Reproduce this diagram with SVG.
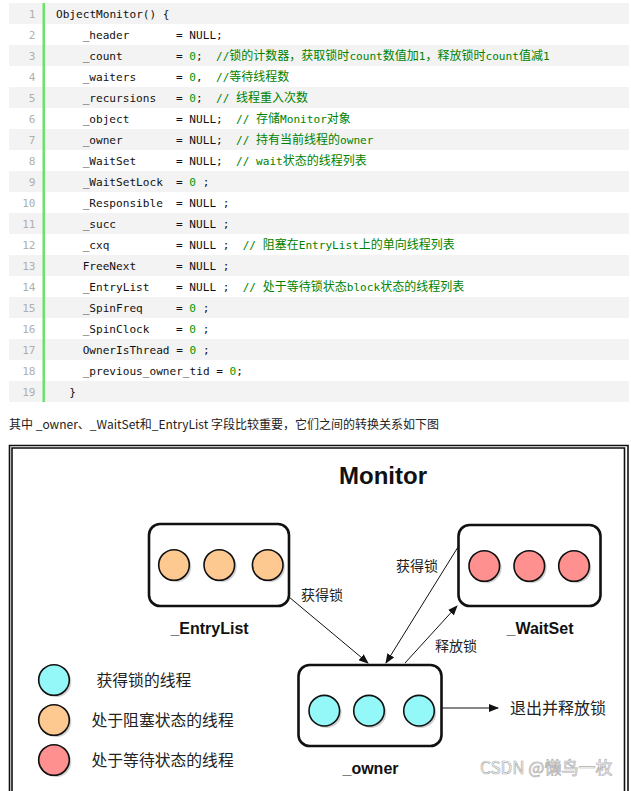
<svg xmlns="http://www.w3.org/2000/svg" width="631" height="791" viewBox="0 0 631 791">
<style>
.row{fill:#f3f3f3}
.ln{font-family:"DejaVu Sans Mono","Liberation Mono",monospace;font-size:11.1px;fill:#afafaf;text-anchor:end}
.cd{font-family:"DejaVu Sans Mono","Liberation Mono","Noto Sans CJK SC",monospace;font-size:11.1px;fill:#111;white-space:pre}
.num{fill:#009900}
.cm{font-family:"DejaVu Sans Mono","Liberation Mono","Noto Sans CJK SC",monospace;font-size:11.1px;fill:#008200;white-space:pre}
.cj{font-family:"Noto Sans CJK SC",sans-serif;font-size:12px}
.para{font-family:"Noto Sans CJK SC",sans-serif;font-size:12px;fill:#222}
.box{fill:#fff;stroke:#111;stroke-width:2.6}
.dot{stroke:#111;stroke-width:1.6}
.sh{fill:#999;opacity:0.45}
.ent{fill:#fec891}
.wai{fill:#fe9090}
.own{fill:#95f8f8}
.lbl{font-family:"Liberation Sans",Arial,sans-serif;font-weight:bold;font-size:16px;fill:#111;text-anchor:middle}
.zh{font-family:"Noto Sans CJK SC",sans-serif;fill:#222}
.con{stroke:#111;stroke-width:1;fill:none}
</style>
<defs>
<marker id="ah" markerWidth="10" markerHeight="8" refX="9" refY="4" orient="auto" markerUnits="userSpaceOnUse">
<path d="M0,0 L10,4 L0,8 Z" fill="#111"/>
</marker>
</defs>
<rect width="631" height="791" fill="#fff"/>
<g id="code">
<rect class="row" x="9" y="3" width="620" height="21"/>
<rect class="row" x="9" y="45" width="620" height="21"/>
<rect class="row" x="9" y="87" width="620" height="21"/>
<rect class="row" x="9" y="129" width="620" height="21"/>
<rect class="row" x="9" y="171" width="620" height="21"/>
<rect class="row" x="9" y="213" width="620" height="21"/>
<rect class="row" x="9" y="255" width="620" height="21"/>
<rect class="row" x="9" y="297" width="620" height="21"/>
<rect class="row" x="9" y="339" width="620" height="21"/>
<rect class="row" x="9" y="381" width="620" height="21"/>
<rect x="42.5" y="3" width="2.5" height="399" fill="#6ce26c"/>
<text class="ln" x="35.5" y="18">1</text>
<text class="ln" x="35.5" y="39">2</text>
<text class="ln" x="35.5" y="60">3</text>
<text class="ln" x="35.5" y="81">4</text>
<text class="ln" x="35.5" y="102">5</text>
<text class="ln" x="35.5" y="123">6</text>
<text class="ln" x="35.5" y="144">7</text>
<text class="ln" x="35.5" y="165">8</text>
<text class="ln" x="35.5" y="186">9</text>
<text class="ln" x="35.5" y="207">10</text>
<text class="ln" x="35.5" y="228">11</text>
<text class="ln" x="35.5" y="249">12</text>
<text class="ln" x="35.5" y="270">13</text>
<text class="ln" x="35.5" y="291">14</text>
<text class="ln" x="35.5" y="312">15</text>
<text class="ln" x="35.5" y="333">16</text>
<text class="ln" x="35.5" y="354">17</text>
<text class="ln" x="35.5" y="375">18</text>
<text class="ln" x="35.5" y="396">19</text>

<text class="cd" x="56" y="18">ObjectMonitor() {</text>
<text class="cd" x="82.67" y="39">_header</text><text class="cd" x="176" y="39">= NULL;</text>
<text class="cd" x="82.67" y="60">_count</text><text class="cd" x="176" y="60">= <tspan class="num">0</tspan>;</text>
<text class="cm" x="216" y="60">//<tspan class="cj">锁的计数器，获取锁时</tspan>count<tspan class="cj">数值加</tspan>1<tspan class="cj">，释放锁时</tspan>count<tspan class="cj">值减</tspan>1</text>
<text class="cd" x="82.67" y="81">_waiters</text><text class="cd" x="176" y="81">= <tspan class="num">0</tspan>,</text>
<text class="cm" x="216" y="81">//<tspan class="cj">等待线程数</tspan></text>
<text class="cd" x="82.67" y="102">_recursions</text><text class="cd" x="176" y="102">= <tspan class="num">0</tspan>;</text>
<text class="cm" x="216" y="102">// <tspan class="cj">线程重入次数</tspan></text>
<text class="cd" x="82.67" y="123">_object</text><text class="cd" x="176" y="123">= NULL;</text>
<text class="cm" x="236" y="123">// <tspan class="cj">存储</tspan>Monitor<tspan class="cj">对象</tspan></text>
<text class="cd" x="82.67" y="144">_owner</text><text class="cd" x="176" y="144">= NULL;</text>
<text class="cm" x="236" y="144">// <tspan class="cj">持有当前线程的</tspan>owner</text>
<text class="cd" x="82.67" y="165">_WaitSet</text><text class="cd" x="176" y="165">= NULL;</text>
<text class="cm" x="236" y="165">// wait<tspan class="cj">状态的线程列表</tspan></text>
<text class="cd" x="82.67" y="186">_WaitSetLock</text><text class="cd" x="176" y="186">= <tspan class="num">0</tspan> ;</text>
<text class="cd" x="82.67" y="207">_Responsible</text><text class="cd" x="176" y="207">= NULL ;</text>
<text class="cd" x="82.67" y="228">_succ</text><text class="cd" x="176" y="228">= NULL ;</text>
<text class="cd" x="82.67" y="249">_cxq</text><text class="cd" x="176" y="249">= NULL ;</text>
<text class="cm" x="242.67" y="249">// <tspan class="cj">阻塞在</tspan>EntryList<tspan class="cj">上的单向线程列表</tspan></text>
<text class="cd" x="82.67" y="270">FreeNext</text><text class="cd" x="176" y="270">= NULL ;</text>
<text class="cd" x="82.67" y="291">_EntryList</text><text class="cd" x="176" y="291">= NULL ;</text>
<text class="cm" x="242.67" y="291">// <tspan class="cj">处于等待锁状态</tspan>block<tspan class="cj">状态的线程列表</tspan></text>
<text class="cd" x="82.67" y="312">_SpinFreq</text><text class="cd" x="176" y="312">= <tspan class="num">0</tspan> ;</text>
<text class="cd" x="82.67" y="333">_SpinClock</text><text class="cd" x="176" y="333">= <tspan class="num">0</tspan> ;</text>
<text class="cd" x="82.67" y="354">OwnerIsThread = <tspan class="num">0</tspan> ;</text>
<text class="cd" x="82.67" y="375">_previous_owner_tid = <tspan class="num">0</tspan>;</text>
<text class="cd" x="69.33" y="396">}</text>
</g>

<text class="para" x="9" y="429">其中 _owner、_WaitSet和_EntryList 字段比较重要，它们之间的转换关系如下图</text>

<g id="frame">
<path d="M9.5,791 V445.5 H628 V791" fill="none" stroke="#111" stroke-width="1.6"/>
<path d="M12,791 V448 H624.5 V791" fill="none" stroke="#111" stroke-width="1.6"/>
</g>
<text x="383" y="484" font-family="Liberation Sans,Arial,sans-serif" font-weight="bold" font-size="24" fill="#111" text-anchor="middle">Monitor</text>

<g id="connectors">
<line class="con" x1="289" y1="597" x2="368" y2="663" marker-end="url(#ah)"/>
<line class="con" x1="458" y1="547" x2="386" y2="663" marker-end="url(#ah)"/>
<line class="con" x1="405" y1="663" x2="457" y2="606" marker-end="url(#ah)"/>
<line class="con" x1="442" y1="708" x2="498" y2="708" marker-end="url(#ah)"/>
<text class="zh" x="301" y="600" font-size="14">获得锁</text>
<text class="zh" x="396" y="571" font-size="14">获得锁</text>
<text class="zh" x="435" y="651" font-size="14">释放锁</text>
<text class="zh" x="510" y="714" font-size="16">退出并释放锁</text>
</g>

<g id="entrylist">
<rect class="box" x="149" y="524" width="140" height="82" rx="11"/>
<circle class="sh" cx="176" cy="567" r="15.3"/>
<circle class="sh" cx="221.3" cy="567" r="15.3"/>
<circle class="sh" cx="269.7" cy="567" r="15.3"/>
<circle class="dot ent" cx="174" cy="565" r="15.3"/>
<circle class="dot ent" cx="219.3" cy="565" r="15.3"/>
<circle class="dot ent" cx="267.7" cy="565" r="15.3"/>
<text class="lbl" x="209.5" y="634">_EntryList</text>
</g>

<g id="waitset">
<rect class="box" x="458.5" y="525" width="142" height="81" rx="11"/>
<circle class="sh" cx="486.3" cy="568" r="15.3"/>
<circle class="sh" cx="531.3" cy="568" r="15.3"/>
<circle class="sh" cx="576" cy="568" r="15.3"/>
<circle class="dot wai" cx="484.3" cy="566" r="15.3"/>
<circle class="dot wai" cx="529.3" cy="566" r="15.3"/>
<circle class="dot wai" cx="574" cy="566" r="15.3"/>
<text class="lbl" x="540" y="634">_WaitSet</text>
</g>

<g id="owner">
<rect class="box" x="298.5" y="665" width="143" height="81" rx="11"/>
<circle class="sh" cx="326.3" cy="712.7" r="15.3"/>
<circle class="sh" cx="371" cy="712.7" r="15.3"/>
<circle class="sh" cx="421" cy="712.7" r="15.3"/>
<circle class="dot own" cx="324.3" cy="710.7" r="15.3"/>
<circle class="dot own" cx="369" cy="710.7" r="15.3"/>
<circle class="dot own" cx="419" cy="710.7" r="15.3"/>
<text class="lbl" x="370.5" y="774">_owner</text>
</g>

<g id="legend">
<circle class="sh" cx="56" cy="682" r="15.3"/>
<circle class="dot own" cx="54" cy="680" r="15.3"/>
<circle class="sh" cx="56" cy="722" r="15.3"/>
<circle class="dot ent" cx="54" cy="720" r="15.3"/>
<circle class="sh" cx="56" cy="762" r="15.3"/>
<circle class="dot wai" cx="54" cy="760" r="15.3"/>
<text class="zh" x="96.5" y="686" font-size="15.8">获得锁的线程</text>
<text class="zh" x="91.5" y="726" font-size="15.8">处于阻塞状态的线程</text>
<text class="zh" x="91.5" y="766" font-size="15.8">处于等待状态的线程</text>
</g>

<text x="480" y="774" font-family="Noto Sans CJK SC,sans-serif" font-size="17" fill="#fff" stroke="#b0b0b0" stroke-width="0.7">CSDN @懒鸟一枚</text>
</svg>
